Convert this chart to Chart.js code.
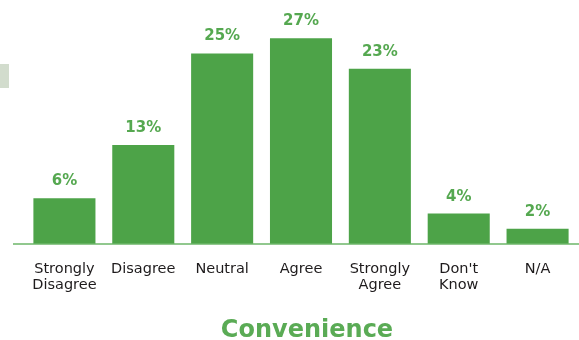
<!DOCTYPE html>
<html>
<head>
<meta charset="utf-8">
<script src="https://cdn.jsdelivr.net/npm/chart.js@4"></script>
<style>
  html, body { margin: 0; padding: 0; background: #ffffff; }
  #wrap { position: relative; width: 579px; height: 340px; }
  #tab { position: absolute; left: 0; top: 64px; width: 9px; height: 24px; background: #d2dccd; }
</style>
</head>
<body>
<div id="wrap">
  <canvas id="c" width="579" height="340"></canvas>
  <div id="tab"></div>
</div>
<script>
const categories = [["Strongly", "Disagree"], "Disagree", "Neutral", "Agree", ["Strongly", "Agree"], ["Don't", "Know"], "N/A"];
const percentages = [6, 13, 25, 27, 23, 4, 2];
const chartTitle = "Convenience";

const FONT = "'DejaVu Sans', sans-serif";
const BAR_GREEN = "#4da348";
const LABEL_GREEN = "#55a850";
const TITLE_GREEN = "#5aab55";

// Percent labels above each bar
const valueLabels = {
  id: "valueLabels",
  afterDatasetsDraw(chart) {
    const ctx = chart.ctx;
    const meta = chart.getDatasetMeta(0);
    ctx.save();
    ctx.font = "bold 15px " + FONT;
    ctx.fillStyle = LABEL_GREEN;
    ctx.textAlign = "center";
    ctx.textBaseline = "alphabetic";
    meta.data.forEach((bar, i) => {
      ctx.fillText(percentages[i] + "%", bar.x, bar.y - 13);
    });
    ctx.restore();
  }
};

// Baseline rule and chart title
const decorations = {
  id: "decorations",
  afterDraw(chart) {
    const ctx = chart.ctx;
    const area = chart.chartArea;
    const y0 = chart.scales.y.getPixelForValue(0);
    ctx.save();
    ctx.strokeStyle = "#6db669";
    ctx.lineWidth = 1.5;
    ctx.beginPath();
    ctx.moveTo(13, y0);
    ctx.lineTo(chart.width, y0);
    ctx.stroke();

    ctx.font = "bold 24px " + FONT;
    ctx.fillStyle = TITLE_GREEN;
    ctx.textAlign = "center";
    ctx.textBaseline = "alphabetic";
    ctx.fillText(chartTitle, (area.left + area.right) / 2 + 6, 337);
    ctx.restore();
  }
};

new Chart(document.getElementById("c"), {
  type: "bar",
  data: {
    labels: categories,
    datasets: [{
      data: percentages,
      backgroundColor: BAR_GREEN,
      borderWidth: 0,
      barPercentage: 0.787,
      categoryPercentage: 1.0
    }]
  },
  options: {
    responsive: false,
    animation: false,
    events: [],
    layout: { padding: { left: 25, right: 2, top: 0, bottom: 30 } },
    plugins: {
      legend: { display: false },
      tooltip: { enabled: false },
      title: { display: false }
    },
    scales: {
      x: {
        grid: { display: false, drawTicks: false },
        border: { display: false },
        ticks: {
          padding: 17,
          color: "#1e1b1c",
          font: { family: FONT, size: 14.5, weight: "normal", lineHeight: 1.1 },
          maxRotation: 0,
          autoSkip: false
        }
      },
      y: {
        display: false,
        min: 0,
        max: 32
      }
    }
  },
  plugins: [valueLabels, decorations]
});
</script>
</body>
</html>
